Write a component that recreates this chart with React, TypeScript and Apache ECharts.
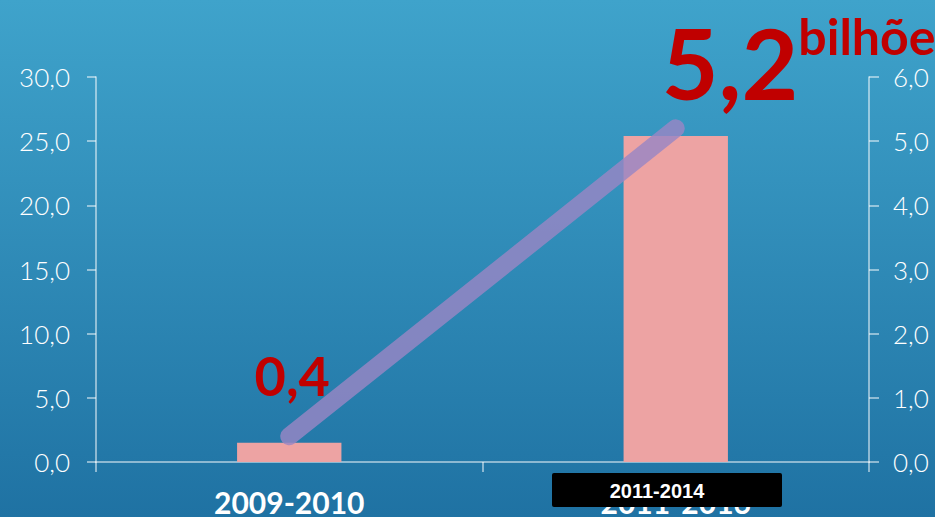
import React, { useEffect, useRef } from "react";
import * as echarts from "echarts";

const categories = ["2009-2010", "2011-2016"];
const barValues = [1.5, 25.4];
const lineValues = [0.4, 5.2];
const unitLabel = "bilhões";
const overlayLabel = "2011-2014";

const fmt = (v: number) => v.toFixed(1).replace(".", ",");

export default function App() {
  const ref = useRef<HTMLDivElement>(null);
  useEffect(() => {
    if (!ref.current) return;
    const chart = echarts.init(ref.current, undefined, { renderer: "svg" });
    const axisColor = "rgba(255,255,255,0.65)";
    chart.setOption({
      animation: false,
      backgroundColor: {
        type: "linear",
        x: 0,
        y: 0,
        x2: 0,
        y2: 1,
        colorStops: [
          { offset: 0, color: "#3FA3CB" },
          { offset: 1, color: "#1F72A3" },
        ],
      },
      grid: { left: 96, right: 66, top: 77, bottom: 55, containLabel: false },
      xAxis: {
        type: "category",
        data: categories,
        boundaryGap: true,
        axisLine: { lineStyle: { color: axisColor, width: 1.5 } },
        axisTick: { show: true, length: 10, lineStyle: { color: axisColor, width: 1.5 } },
        axisLabel: {
          color: "#ffffff",
          fontFamily: "Lato",
          fontWeight: "bold",
          fontSize: 30,
          margin: 25,
        },
      },
      yAxis: [
        {
          type: "value",
          min: 0,
          max: 30,
          interval: 5,
          position: "left",
          splitLine: { show: false },
          axisLine: { show: true, lineStyle: { color: axisColor, width: 1.5 } },
          axisTick: { show: true, length: 9, lineStyle: { color: axisColor, width: 1.5 } },
          axisLabel: {
            color: "#ffffff",
            fontFamily: "Lato",
            fontWeight: 300,
            fontSize: 26,
            margin: 26,
            formatter: (v: number) => fmt(v),
          },
        },
        {
          type: "value",
          min: 0,
          max: 6,
          interval: 1,
          position: "right",
          splitLine: { show: false },
          axisLine: { show: true, lineStyle: { color: axisColor, width: 1.5 } },
          axisTick: { show: true, length: 10, lineStyle: { color: axisColor, width: 1.5 } },
          axisLabel: {
            color: "#ffffff",
            fontFamily: "Lato",
            fontWeight: 300,
            fontSize: 26,
            margin: 24,
            formatter: (v: number) => fmt(v),
          },
        },
      ],
      series: [
        {
          type: "bar",
          yAxisIndex: 0,
          data: barValues,
          barWidth: "27%",
          itemStyle: { color: "#EDA3A3" },
        },
        {
          type: "line",
          yAxisIndex: 1,
          symbol: "circle",
          symbolSize: 2,
          itemStyle: { color: "rgba(0,0,0,0)" },
          lineStyle: { color: "rgba(152,134,196,0.82)", width: 18, cap: "round" },
          data: [
            {
              value: lineValues[0],
              label: {
                show: true,
                position: "top",
                distance: 33,
                offset: [3, 0],
                formatter: (p: any) => String(p.value).replace(".", ","),
                color: "#C00000",
                fontFamily: "Lato",
                fontWeight: "bold",
                fontSize: 54,
              },
            },
            {
              value: lineValues[1],
              label: {
                show: true,
                position: "top",
                align: "left",
                offset: [-14, 0],
                distance: 16,
                formatter: (p: any) =>
                  `{big|${String(p.value).replace(".", ",")}}{sup|${unitLabel}}`,
                rich: {
                  big: {
                    color: "#C00000",
                    fontFamily: "Lato",
                    fontWeight: "bold",
                    fontSize: 98,
                    lineHeight: 100,
                    verticalAlign: "bottom",
                  },
                  sup: {
                    color: "#C00000",
                    fontFamily: "Lato",
                    fontWeight: "bold",
                    fontSize: 50,
                    lineHeight: 50,
                    verticalAlign: "top",
                  },
                },
              },
            },
          ],
        },
      ],
      graphic: [
        {
          type: "group",
          left: 552,
          top: 473,
          z: 100,
          children: [
            {
              type: "rect",
              z: 100,
              shape: { x: 0, y: 0, width: 230, height: 34, r: 2 },
              style: { fill: "#000000" },
            },
            {
              type: "text",
              z: 101,
              x: 105,
              y: 18,
              style: {
                text: overlayLabel,
                fill: "#ffffff",
                font: "bold 20px 'Liberation Sans', Arial, sans-serif",
                textAlign: "center",
                textVerticalAlign: "middle",
              },
            },
          ],
        },
      ],
    });
    return () => chart.dispose();
  }, []);
  return (
    <div
      ref={ref}
      style={{ position: "fixed", left: 0, top: 0, width: 935, height: 517 }}
    />
  );
}
